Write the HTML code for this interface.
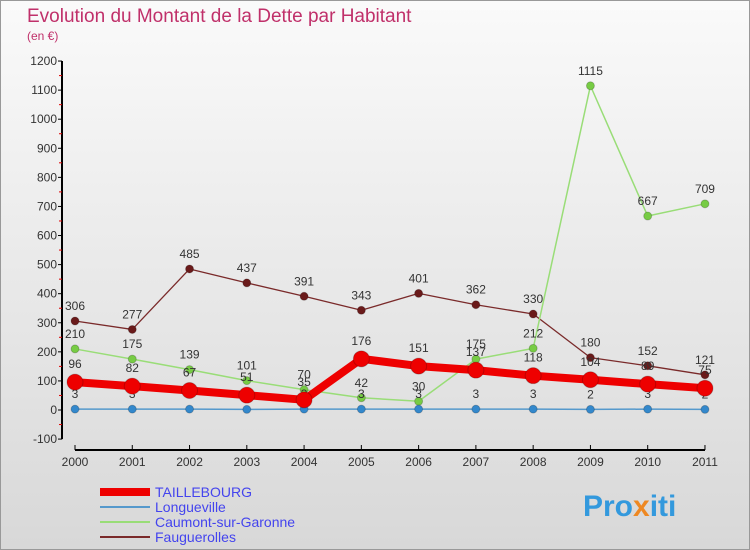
<!DOCTYPE html>
<html><head><meta charset="utf-8"><style>
body{margin:0;width:750px;height:550px;overflow:hidden;font-family:"Liberation Sans",sans-serif}
#wrap{position:absolute;left:0;top:0;width:748px;height:548px;border:1px solid #999;background:linear-gradient(#fafafa,#d8d8d8)}
</style></head><body>
<div id="wrap"></div>
<svg id="c" width="750" height="550" style="position:absolute;left:0;top:0">
<text x="27" y="22" font-size="19" fill="#c0306a">Evolution du Montant de la Dette par Habitant</text>
<text x="27" y="40" font-size="12" fill="#c0306a">(en €)</text>
<g id="axes"></g><g id="series"></g><g id="legend"></g>
<text x="583" y="516" font-size="30" font-weight="bold" fill="#3399dd">Pro<tspan fill="#ee8822">x</tspan>iti</text>
</svg>
<script>
const years=["2000","2001","2002","2003","2004","2005","2006","2007","2008","2009","2010","2011"];
const yTicks=[-100,0,100,200,300,400,500,600,700,800,900,1000,1100,1200];
const taillebourg=[96,82,67,51,35,176,151,137,118,104,89,75];
const longueville=[3,3,3,2,3,3,3,3,3,2,3,2];
const caumont=[210,175,139,101,70,42,30,175,212,1115,667,709];
const faugu=[306,277,485,437,391,343,401,362,330,180,152,121];
const NS="http://www.w3.org/2000/svg";
const X=i=>75+i*57.27, Y=v=>410-v*0.2908;
function mk(tag,attrs,parent,txt){const e=document.createElementNS(NS,tag);for(const k in attrs)e.setAttribute(k,attrs[k]);if(txt!==undefined)e.textContent=txt;parent.appendChild(e);return e;}
const ax=document.getElementById('axes');
let a=mk('line',{x1:62,y1:Y(1200),x2:62,y2:Y(-100),stroke:'#000','stroke-width':2},ax);

a=mk('line',{x1:75,y1:450,x2:705,y2:450,stroke:'#000','stroke-width':2},ax);

yTicks.forEach(v=>{
 let t=mk('text',{x:57,y:Y(v)+4,'font-size':12,fill:'#333','text-anchor':'end'},ax,String(v));
 
 mk('line',{x1:58,y1:Y(v),x2:62,y2:Y(v),stroke:'#000'},ax);
 if(v<1200)mk('line',{x1:59,y1:Y(v+50),x2:62,y2:Y(v+50),stroke:'#d00'},ax);
});
years.forEach((y,i)=>{
 mk('line',{x1:X(i),y1:445,x2:X(i),y2:450,stroke:'#000'},ax);
 let t=mk('text',{x:X(i),y:466,'font-size':12,fill:'#333','text-anchor':'middle'},ax,y);
 
});
const sg=document.getElementById('series');
function series(data,color,w,r,dot,name){
 const g=mk('g',{},sg);
 
 mk('polyline',{points:data.map((v,i)=>X(i)+','+Y(v)).join(' '),fill:'none',stroke:color,'stroke-width':w,'stroke-linejoin':'round'},g);
 data.forEach((v,i)=>{
  let c=mk('circle',{cx:X(i),cy:Y(v),r:r,fill:dot,stroke:'rgba(0,0,0,0.2)'},g);
  
  mk('text',{x:X(i),y:Y(v)-11-(r>6?3:0),'font-size':12,fill:'#333','text-anchor':'middle'},g,String(v));
 });
}
series(faugu,'#7a2a2a',1.3,4,'#6a1a1a','fauguerolles-series');
series(caumont,'#99dd77',1.5,4,'#77cc44','caumont-series');
series(longueville,'#5599cc',1.5,4,'#3388cc','longueville-series');
series(taillebourg,'#ee0000',8,8,'#ee0000','taillebourg-series');
const lg=document.getElementById('legend');
[["TAILLEBOURG","#ee0000",8],["Longueville","#5599cc",2],["Caumont-sur-Garonne","#99dd77",2],["Fauguerolles","#7a2a2a",2]].forEach((d,i)=>{
 const y=492+i*15;
 const g=mk('g',{},lg);
 
 mk('line',{x1:100,y1:y,x2:150,y2:y,stroke:d[1],'stroke-width':d[2]},g);
 mk('text',{x:155,y:y+5,'font-size':14,fill:'#4444ee'},g,d[0]);
});
</script>
</body></html>
